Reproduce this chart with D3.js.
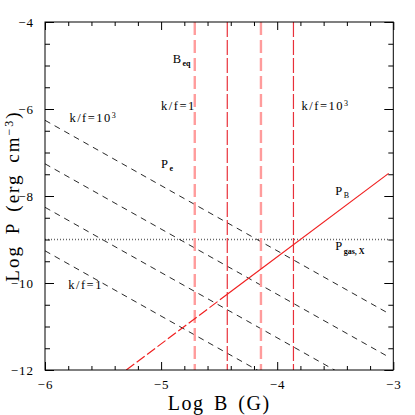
<!DOCTYPE html>
<html>
<head>
<meta charset="utf-8">
<script src="https://cdn.jsdelivr.net/npm/d3@7"></script>
<style>
  body { margin: 0; background: #fff; }
  text { font-family: "Liberation Serif", "Times New Roman", serif; fill: #000; }
</style>
</head>
<body>
<div id="chart"></div>
<script>
// curves are computed over this range of log B
var curveB = [-6, -3.04];

// P_e lines, k/f = 10^3, 10^2, 10, 1 (log P at each end of curveB)
var peLeft  = [-6.26, -7.26, -8.26, -9.26];
var peRight = [-10.70, -11.70, -12.70, -13.70];

// magnetic pressure P_B: dashed part then solid part
var pbB = [-5.30, -4.43, -3.04];
var pbP = [-12.0, -10.26, -7.48];

// X-ray gas pressure
var pGas = -9;

// vertical B_eq markers
var pinkB = [-4.71, -4.14];
var redB  = [-4.43, -3.86];

var xMajor = [-6, -5, -4, -3];
var yMajor = [-12, -10, -8, -6, -4];

var margin = {top: 22, right: 21.7, bottom: 45, left: 45},
    width = 415 - margin.left - margin.right,
    height = 415 - margin.top - margin.bottom;

var svg = d3.select("#chart").append("svg")
    .attr("width", 415)
    .attr("height", 415)
  .append("g")
    .attr("transform", "translate(" + margin.left + "," + margin.top + ")");

var x = d3.scaleLinear().domain([-6, -3]).range([0, width]);
var y = d3.scaleLinear().domain([-12, -4]).range([height, 0]);

svg.append("clipPath").attr("id", "clip")
  .append("rect").attr("width", width).attr("height", height);

var plot = svg.append("g").attr("clip-path", "url(#clip)");

var line = d3.line()
    .x(function(d) { return x(d[0]); })
    .y(function(d) { return y(d[1]); });

// gas pressure (dotted)
plot.append("path")
    .attr("d", line([[curveB[0], pGas], [curveB[1], pGas]]))
    .attr("fill", "none")
    .attr("stroke", "#666")
    .attr("stroke-width", 1.4)
    .attr("stroke-dasharray", "1,2");

// P_e lines
plot.selectAll(".pe")
    .data(peLeft)
  .enter().append("path")
    .attr("class", "pe")
    .attr("d", function(d, i) { return line([[curveB[0], d], [curveB[1], peRight[i]]]); })
    .attr("fill", "none")
    .attr("stroke", "#111")
    .attr("stroke-width", 0.9)
    .attr("stroke-dasharray", "6,5");

// vertical markers
plot.selectAll(".pink")
    .data(pinkB)
  .enter().append("line")
    .attr("class", "pink")
    .attr("x1", function(d) { return x(d); })
    .attr("x2", function(d) { return x(d); })
    .attr("y1", 0).attr("y2", height)
    .attr("stroke", "#ff9c9c")
    .attr("stroke-width", 2.4)
    .attr("stroke-dasharray", "13,5");

plot.selectAll(".red")
    .data(redB)
  .enter().append("line")
    .attr("class", "red")
    .attr("x1", function(d) { return x(d); })
    .attr("x2", function(d) { return x(d); })
    .attr("y1", 0).attr("y2", height)
    .attr("stroke", "#e8303a")
    .attr("stroke-width", 1.2)
    .attr("stroke-dasharray", "15,3");

// P_B
plot.append("path")
    .attr("d", line([[pbB[0], pbP[0]], [pbB[1], pbP[1]]]))
    .attr("fill", "none")
    .attr("stroke", "#f02020")
    .attr("stroke-width", 1.2)
    .attr("stroke-dasharray", "10,3");

plot.append("path")
    .attr("d", line([[pbB[1], pbP[1]], [pbB[2], pbP[2]]]))
    .attr("fill", "none")
    .attr("stroke", "#f02020")
    .attr("stroke-width", 1.2);

// axes, ticks pointing inward on all four sides
var xMinor = d3.range(-6, -2.99, 0.2).filter(function(v) { return Math.abs(v - Math.round(v)) > 1e-6; });
var yMinor = d3.range(-12, -3.99, 0.5).filter(function(v) { return Math.abs(v / 2 - Math.round(v / 2)) > 1e-6; });
var fmt = d3.format("d");

function addAxis(gen, vals, size, labels, transform) {
  var g = svg.append("g")
      .attr("transform", transform || null)
      .style("font-family", "Liberation Serif")
      .style("font-size", "13px")
      .call(gen.tickValues(vals).tickSize(-size).tickSizeOuter(0).tickPadding(10)
        .tickFormat(labels ? fmt : ""));
  g.select(".domain").remove();
  g.selectAll(".tick line").attr("stroke", "#000");
  g.selectAll(".tick text").attr("letter-spacing", "1px");
  return g;
}

addAxis(d3.axisBottom(x), xMajor, 8, true, "translate(0," + height + ")");
addAxis(d3.axisBottom(x), xMinor, 4, false, "translate(0," + height + ")");
addAxis(d3.axisTop(x), xMajor, 8, false);
addAxis(d3.axisTop(x), xMinor, 4, false);
addAxis(d3.axisLeft(y), yMajor, 9, true).selectAll(".tick text").attr("dx", "-1");
addAxis(d3.axisLeft(y), yMinor, 5, false);
addAxis(d3.axisRight(y), yMajor, 9, false, "translate(" + width + ",0)");
addAxis(d3.axisRight(y), yMinor, 5, false, "translate(" + width + ",0)");

svg.append("rect")
    .attr("width", width)
    .attr("height", height)
    .attr("fill", "none")
    .attr("stroke", "#000")
    .attr("stroke-width", 1);

// axis titles
svg.append("text")
    .attr("x", width / 2)
    .attr("y", height + 40)
    .attr("text-anchor", "middle")
    .style("font-size", "20px")
    .attr("letter-spacing", "1.5px")
    .attr("word-spacing", "3px")
    .text("Log B (G)");

var yt = svg.append("text")
    .attr("transform", "translate(" + (-margin.left + 19) + "," + (height / 2) + ") rotate(-90)")
    .attr("text-anchor", "middle")
    .style("font-size", "19px")
    .attr("letter-spacing", "2px")
    .attr("word-spacing", "4px");
yt.append("tspan").text("Log P (erg cm");
yt.append("tspan").attr("dy", -6).style("font-size", "12px").text("−3");
yt.append("tspan").attr("dy", 6).text(")");

// in-plot labels
function label(px, py, parts) {
  var t = svg.append("text")
      .attr("x", px).attr("y", py)
      .style("font-size", "12.5px")
      .attr("letter-spacing", "1.5px");
  parts.forEach(function(p) {
    t.append("tspan")
      .attr("dy", p.dy || 0)
      .style("font-size", p.size || null)
      .style("font-weight", p.bold ? "bold" : null)
      .attr("letter-spacing", p.ls != null ? p.ls + "px" : null)
      .text(p.t);
  });
}

label(x(-4.90), y(-4.95), [{t: "B"}, {t: "eq", dy: 3, size: "8px", bold: true, ls: 0}]);
label(x(-5.00), y(-6.03), [{t: "k/f=1"}]);
label(x(-5.79), y(-6.3), [{t: "k/f=10"}, {t: "3", dy: -4, size: "8px", ls: 0}]);
label(x(-5.00), y(-7.35), [{t: "P"}, {t: "e", dy: 3, size: "8px", bold: true, ls: 0}]);
label(x(-3.79), y(-6.03), [{t: "k/f=10"}, {t: "3", dy: -4, size: "8px", ls: 0}]);
label(x(-3.5), y(-7.97), [{t: "P"}, {t: "B", dy: 3, size: "8px", ls: 0}]);
label(x(-3.5), y(-9.25), [{t: "P"}, {t: "gas, X", dy: 4, size: "8px", bold: true, ls: 0}]);
label(x(-5.80), y(-10.13), [{t: "k/f=1"}]);
</script>
</body>
</html>
